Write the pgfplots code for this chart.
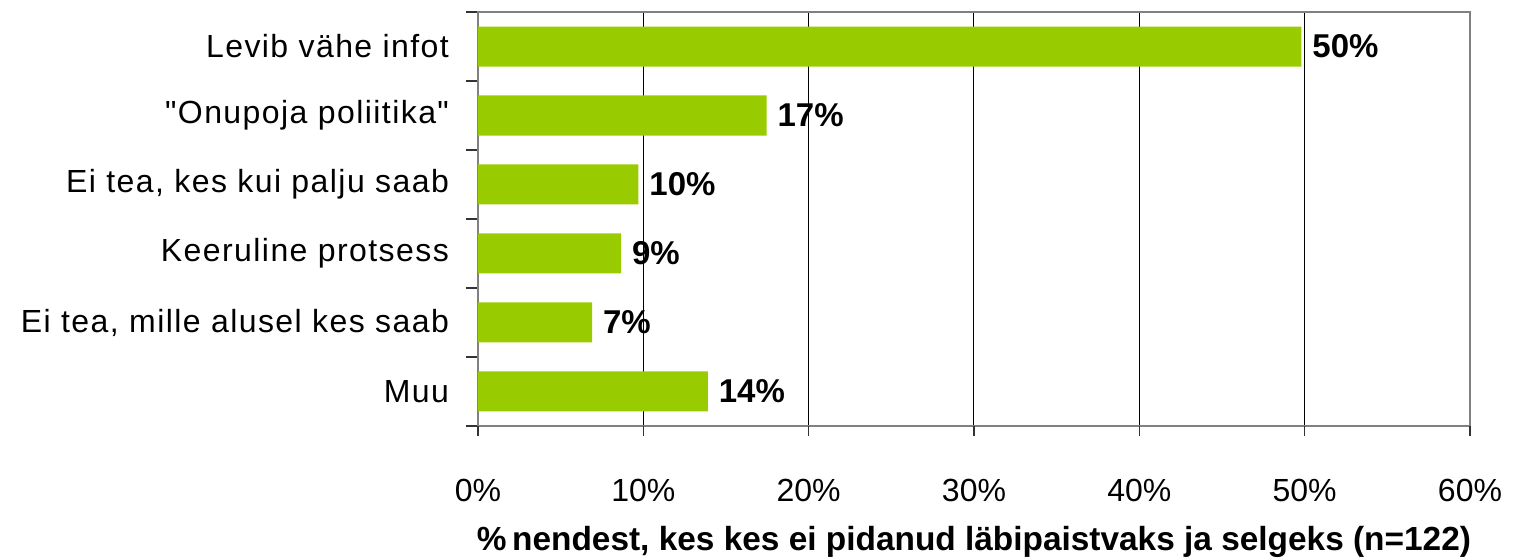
\documentclass[border=0pt]{standalone}
\usepackage{pgfplots}
\pgfplotsset{compat=1.18}
\usepackage{fontspec}
\setmainfont{Liberation Sans}
\newfontfamily\catfont[LetterSpace=4.5, Ligatures=TeXOff]{Liberation Sans}
\definecolor{bargreen}{HTML}{99CC00}
\definecolor{axgray}{HTML}{808080}
\begin{document}
\begin{tikzpicture}
\begin{axis}[
  scale only axis,
  width=496pt, height=207pt,
  xbar, bar width=20pt,
  xmin=0, xmax=60,
  ymin=-0.5, ymax=5.5,
  xtick={0,10,...,60},
  xticklabels={0\%,10\%,20\%,30\%,40\%,50\%,60\%},
  ytick={0,1,2,3,4,5},
  yticklabels={Muu,{Ei tea, mille alusel kes saab},Keeruline protsess,{Ei tea, kes kui palju saab},"Onupoja poliitika",Levib vähe infot},
  minor ytick={-0.5,0.5,1.5,2.5,3.5,4.5,5.5},
  major tick length=0pt,
  minor tick length=6pt,
  tick align=outside,
  extra x ticks={0,10,...,60},
  extra x tick labels={},
  extra x tick style={major tick length=5pt, tick style={black!80, line width=0.6pt}, grid=none},
  xmajorgrids,
  major grid style={black, line width=0.5pt},
  minor tick style={black!80, line width=0.6pt},
  xtick pos=bottom, ytick pos=left,
  axis line style={axgray, line width=1pt},
  xticklabel style={font=\fontsize{16}{19}\selectfont, yshift=-23pt},
  yticklabel style={font=\catfont\fontsize{16}{19}\selectfont, xshift=-11pt},
  xlabel={\bfseries\%\,nendest, kes kes ei pidanud läbipaistvaks ja selgeks (n=122)},
  xlabel style={font=\fontsize{16.7}{19}\selectfont, yshift=-0.5pt},
  /pgf/number format/assume math mode=true,
  point meta=explicit symbolic,
  nodes near coords,
  nodes near coords style={font=\bfseries\fontsize{16.5}{19}\selectfont, black, anchor=west, xshift=2pt},
  clip=false,
]
\addplot[fill=bargreen, draw=none] coordinates {
  (13.9,0) [14\%]
  (6.9,1) [7\%]
  (8.65,2) [9\%]
  (9.7,3) [10\%]
  (17.45,4) [17\%]
  (49.8,5) [50\%]
};
\coordinate (sw) at (rel axis cs:0,0);
\coordinate (ne) at (rel axis cs:1,1);
\end{axis}
\pgfresetboundingbox
\path (sw) ++(-239pt,-67pt) coordinate (a);
\path (ne) ++(25pt,6pt) coordinate (b);
\path[use as bounding box] (a) rectangle (b);
\end{tikzpicture}
\end{document}
